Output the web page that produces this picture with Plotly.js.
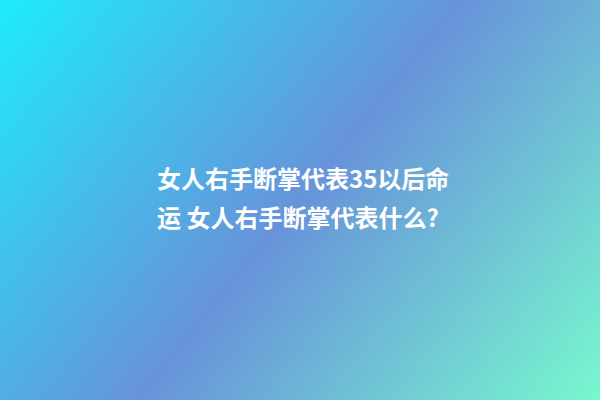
<!DOCTYPE html>
<html>
<head>
<meta charset="utf-8">
<script src="https://cdn.plot.ly/plotly-3.0.1.min.js"></script>
<style>
  html, body { margin: 0; padding: 0; }
  #chart { width: 600px; height: 400px; }
</style>
</head>
<body>
<div id="chart"></div>
<script>
// background corners (left/right edge, top/bottom edge) and their gradient level
const cornerX = [0, 600];
const cornerY = [0, 400];
const cornerLevel = [
  [0, 0.649],   // top-left, top-right
  [0.351, 1],   // bottom-left, bottom-right
];

// cyan -> soft blue-violet -> mint
const gradientColors = [
  [0, "#1eebfd"],
  [0.5, "#6793da"],
  [1, "#78f8ce"],
];

// headline, two lines
const titleLines = [
  "女人右手断掌代表35以后命",
  "运 女人右手断掌代表什么?",
];

const background = {
  type: "heatmap",
  x: cornerX,
  y: cornerY,
  z: cornerLevel,
  zmin: 0,
  zmax: 1,
  zsmooth: "best",
  colorscale: gradientColors,
  showscale: false,
  hoverinfo: "skip",
};

const lineY = [177, 216];

const annotations = titleLines.map((t, i) => ({
  x: 155,
  y: lineY[i],
  xref: "x",
  yref: "y",
  xanchor: "left",
  yanchor: "middle",
  showarrow: false,
  text: "<b>" + t + "</b>",
  font: { family: "'Noto Sans CJK SC', sans-serif", size: 24, color: "#ffffff" },
}));

const layout = {
  width: 600,
  height: 400,
  margin: { t: 0, r: 0, b: 0, l: 0 },
  paper_bgcolor: "#6793da",
  plot_bgcolor: "#6793da",
  xaxis: { range: [0, 600], visible: false, fixedrange: true },
  yaxis: { range: [400, 0], visible: false, fixedrange: true },
  annotations,
  showlegend: false,
};

Plotly.newPlot("chart", [background], layout, { staticPlot: true, displayModeBar: false });
</script>
</body>
</html>
